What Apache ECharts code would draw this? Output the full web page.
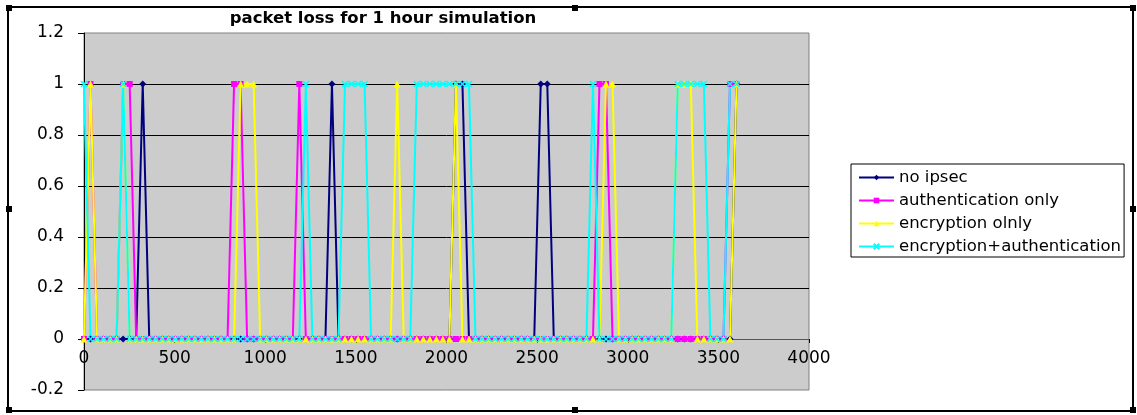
<!DOCTYPE html>
<html>
<head>
<meta charset="utf-8">
<title>packet loss for 1 hour simulation</title>
<script src="https://cdn.jsdelivr.net/npm/echarts@6/dist/echarts.min.js"></script>
<style>
  html, body { margin: 0; padding: 0; background: #fff; }
  #chart { width: 1137px; height: 415px; }
</style>
</head>
<body>
<div id="chart"></div>
<script>
// sample times in seconds (one sample every 36 s)
var sampleTimes = [
  0, 36, 72, 108, 144, 180, 216, 252, 288, 324,
  360, 396, 432, 468, 504, 540, 576, 612, 648, 684,
  720, 756, 792, 828, 864, 900, 936, 972, 1008, 1044,
  1080, 1116, 1152, 1188, 1224, 1260, 1296, 1332, 1368, 1404,
  1440, 1476, 1512, 1548, 1584, 1620, 1656, 1692, 1728, 1764,
  1800, 1836, 1872, 1908, 1944, 1980, 2016, 2052, 2088, 2124,
  2160, 2196, 2232, 2268, 2304, 2340, 2376, 2412, 2448, 2484,
  2520, 2556, 2592, 2628, 2664, 2700, 2736, 2772, 2808, 2844,
  2880, 2916, 2952, 2988, 3024, 3060, 3096, 3132, 3168, 3204,
  3240, 3276, 3312, 3348, 3384, 3420, 3456, 3492, 3528, 3564,
  3600
];

// packet loss per sample (0 = ok, 1 = lost)
var noIpsec = [
  0, 0, 0, 0, 0, 0, 0, 0, 0, 1,
  0, 0, 0, 0, 0, 0, 0, 0, 0, 0,
  0, 0, 0, 0, 0, 0, 0, 0, 0, 0,
  0, 0, 0, 0, 0, 0, 0, 0, 1, 0,
  0, 0, 0, 0, 0, 0, 0, 0, 0, 0,
  0, 0, 0, 0, 0, 0, 0, 1, 1, 0,
  0, 0, 0, 0, 0, 0, 0, 0, 0, 0,
  1, 1, 0, 0, 0, 0, 0, 0, 0, 0,
  0, 0, 0, 0, 0, 0, 0, 0, 0, 0,
  0, 0, 0, 0, 0, 0, 0, 0, 0, 0,
  1
];
var authOnly = [
  0, 1, 0, 0, 0, 0, 1, 1, 0, 0,
  0, 0, 0, 0, 0, 0, 0, 0, 0, 0,
  0, 0, 0, 1, 1, 0, 0, 0, 0, 0,
  0, 0, 0, 1, 0, 0, 0, 0, 0, 0,
  0, 0, 0, 0, 0, 0, 0, 0, 0, 0,
  0, 0, 0, 0, 0, 0, 0, 0, 0, 0,
  0, 0, 0, 0, 0, 0, 0, 0, 0, 0,
  0, 0, 0, 0, 0, 0, 0, 0, 0, 1,
  1, 0, 0, 0, 0, 0, 0, 0, 0, 0,
  0, 0, 0, 0, 0, 0, 0, 0, 0, 1,
  1
];
var encOnly = [
  0, 1, 0, 0, 0, 0, 1, 0, 0, 0,
  0, 0, 0, 0, 0, 0, 0, 0, 0, 0,
  0, 0, 0, 0, 1, 1, 1, 0, 0, 0,
  0, 0, 0, 0, 0, 0, 0, 0, 0, 0,
  0, 0, 0, 0, 0, 0, 0, 0, 1, 0,
  0, 0, 0, 0, 0, 0, 0, 1, 0, 0,
  0, 0, 0, 0, 0, 0, 0, 0, 0, 0,
  0, 0, 0, 0, 0, 0, 0, 0, 0, 0,
  1, 1, 0, 0, 0, 0, 0, 0, 0, 0,
  0, 1, 1, 1, 0, 0, 0, 0, 0, 0,
  1
];
var encAuth = [
  1, 0, 0, 0, 0, 0, 1, 0, 0, 0,
  0, 0, 0, 0, 0, 0, 0, 0, 0, 0,
  0, 0, 0, 0, 0, 0, 0, 0, 0, 0,
  0, 0, 0, 0, 1, 0, 0, 0, 0, 0,
  1, 1, 1, 1, 0, 0, 0, 0, 0, 0,
  0, 1, 1, 1, 1, 1, 1, 1, 1, 1,
  0, 0, 0, 0, 0, 0, 0, 0, 0, 0,
  0, 0, 0, 0, 0, 0, 0, 0, 1, 0,
  0, 0, 0, 0, 0, 0, 0, 0, 0, 0,
  0, 1, 1, 1, 1, 1, 0, 0, 0, 1,
  1
];

var seriesNames = ["no ipsec", "authentication only", "encryption olnly", "encryption+authentication"];
var xTicks = { min: 0, max: 4000, step: 500 };
var yTicks = { min: -0.2, max: 1.2, step: 0.2 };

function pairs(vals) {
  var out = [];
  for (var i = 0; i < sampleTimes.length; i++) {
    out.push([sampleTimes[i], vals[i]]);
  }
  return out;
}

var font = "DejaVu Sans";
var chart = echarts.init(document.getElementById("chart"));

function lineSeries(name, vals, color, symbol, size, extraItem) {
  return {
    name: name,
    type: "line",
    data: pairs(vals),
    symbol: symbol,
    symbolSize: size,
    showSymbol: true,
    lineStyle: { color: color, width: 2 },
    itemStyle: extraItem || { color: color },
    emphasis: { disabled: true },
    animation: false
  };
}

// x axis sits on y = 0 : 51px above the bottom of the plot (0.2 of 1.4 on a 357px tall grid)
var xAxisLift = -51;

var option = {
  animation: false,
  title: {
    text: "packet loss for 1 hour simulation",
    left: 383,
    top: 10,
    textAlign: "center",
    padding: 0,
    textStyle: { fontFamily: font, fontSize: 16.5, fontWeight: "bold", color: "#000" }
  },
  grid: {
    left: 84, top: 33, width: 725, height: 357,
    show: true,
    backgroundColor: "#CCCCCC",
    borderColor: "#808080",
    borderWidth: 1,
    containLabel: false,
    outerBoundsMode: "none"
  },
  legend: {
    orient: "vertical",
    left: 851,
    top: 164,
    padding: [5, 3, 2, 7],
    itemWidth: 35,
    itemHeight: 7,
    itemGap: 6,
    borderColor: "#000",
    borderWidth: 1,
    backgroundColor: "#fff",
    textStyle: { fontFamily: font, fontSize: 16.5, color: "#000", lineHeight: 16 },
    data: seriesNames
  },
  xAxis: {
    type: "value",
    position: "bottom",
    offset: xAxisLift,
    min: xTicks.min,
    max: xTicks.max,
    interval: xTicks.step,
    axisLine: { onZero: false, lineStyle: { color: "#555", width: 1 } },
    axisTick: { show: true, length: 4, lineStyle: { color: "#000" } },
    axisLabel: {
      fontFamily: font, fontSize: 17, color: "#000", margin: 11,
      showMinLabel: true, showMaxLabel: true,
      formatter: function(v) { return String(v); }
    },
    splitLine: { show: false }
  },
  yAxis: {
    type: "value",
    min: yTicks.min,
    max: yTicks.max,
    interval: yTicks.step,
    axisLine: { show: true, onZero: false, lineStyle: { color: "#000", width: 1 } },
    axisTick: { show: true, length: 6, lineStyle: { color: "#000" } },
    axisLabel: { fontFamily: font, fontSize: 17, color: "#000", margin: 20 },
    splitLine: { show: true, showMinLine: false, showMaxLine: false, lineStyle: { color: "#000", width: 1 } }
  },
  series: [
    lineSeries(seriesNames[0], noIpsec, "#000080", "diamond", 7),
    lineSeries(seriesNames[1], authOnly, "#FF00FF", "rect", 6),
    lineSeries(seriesNames[2], encOnly, "#FFFF00", "triangle", 7),
    lineSeries(seriesNames[3], encAuth, "#00FFFF", "path://M0,0L10,10M10,0L0,10", 6,
      { color: "#00FFFF", borderColor: "#00FFFF", borderWidth: 1.5 })
  ],
  graphic: [
    { type: "rect", shape: { x: 8, y: 7, width: 1125, height: 404 }, style: { fill: null, stroke: "#000", lineWidth: 2 }, silent: true },
    { type: "rect", shape: { x: 6, y: 5, width: 6, height: 6 }, style: { fill: "#000" }, silent: true },
    { type: "rect", shape: { x: 572, y: 5, width: 6, height: 6 }, style: { fill: "#000" }, silent: true },
    { type: "rect", shape: { x: 1130, y: 5, width: 6, height: 6 }, style: { fill: "#000" }, silent: true },
    { type: "rect", shape: { x: 6, y: 206, width: 6, height: 6 }, style: { fill: "#000" }, silent: true },
    { type: "rect", shape: { x: 1130, y: 206, width: 6, height: 6 }, style: { fill: "#000" }, silent: true },
    { type: "rect", shape: { x: 6, y: 407, width: 6, height: 6 }, style: { fill: "#000" }, silent: true },
    { type: "rect", shape: { x: 572, y: 407, width: 6, height: 6 }, style: { fill: "#000" }, silent: true },
    { type: "rect", shape: { x: 1130, y: 407, width: 6, height: 6 }, style: { fill: "#000" }, silent: true }
  ]
};

chart.setOption(option);
</script>
</body>
</html>
